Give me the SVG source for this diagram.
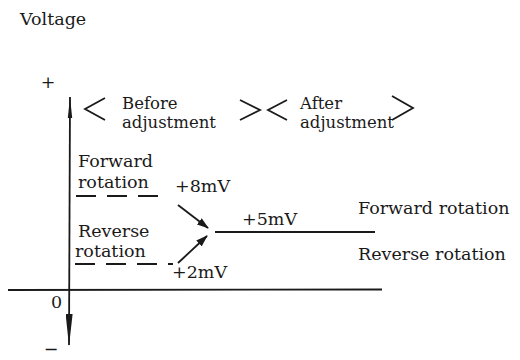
<svg xmlns="http://www.w3.org/2000/svg" width="520" height="360" viewBox="0 0 520 360">
<defs>
<style>
text{font-family:"DejaVu Serif","Liberation Serif",serif;font-size:17.5px;fill:#1a1a1a}
.hd{font-size:16.5px}
.ln{stroke:#1a1a1a;stroke-width:1.8;fill:none}
.dash{stroke:#1a1a1a;stroke-width:1.8;fill:none;stroke-dasharray:20 11}
</style>
<marker id="ah" viewBox="0 0 12 8" refX="11" refY="4" markerWidth="12" markerHeight="8" markerUnits="userSpaceOnUse" orient="auto"><path d="M0,0 L12,4 L0,8 Z" fill="#1a1a1a"/></marker>
<marker id="axh" viewBox="0 0 32 7" refX="31" refY="3.5" markerWidth="32" markerHeight="7" markerUnits="userSpaceOnUse" orient="auto"><path d="M0,0 L32,3.5 L0,7 Z" fill="#1a1a1a"/></marker>
</defs>
<rect width="520" height="360" fill="#fff"/>
<g id="axes">
<text x="20" y="25">Voltage</text>
<text x="48" y="88" text-anchor="middle">+</text>
<line class="ln" x1="70" y1="97" x2="69" y2="345" marker-end="url(#axh)"/>
<path d="M70,97 L72.2,118 L67.8,118 Z" fill="#1a1a1a"/>
<line class="ln" x1="8" y1="290" x2="382" y2="289.5"/>
<text x="51" y="308">0</text>
<text x="51" y="355" text-anchor="middle" font-size="16">−</text>
</g>
<g id="before">
<path class="ln" d="M105,98 L85,109 L105,120"/>
<text class="hd" x="122" y="109">Before</text>
<text class="hd" x="122" y="128">adjustment</text>
<path class="ln" d="M240,100 L260,110 L240,120"/>
</g>
<g id="after">
<path class="ln" d="M287,100 L268,110 L287,120"/>
<text class="hd" x="300" y="109">After</text>
<text class="hd" x="300" y="128">adjustment</text>
<path class="ln" d="M392,96 L413,108 L392,120"/>
</g>
<g id="forward-before">
<text x="78" y="167">Forward</text>
<text x="78" y="188">rotation</text>
<line class="dash" x1="76" y1="196" x2="167" y2="196"/>
<text x="175" y="192">+8mV</text>
</g>
<g id="reverse-before">
<text x="78" y="237">Reverse</text>
<text x="75" y="257">rotation</text>
<line class="dash" x1="75" y1="264" x2="173" y2="264"/>
<text x="172" y="278">+2mV</text>
</g>
<g id="after-level">
<text x="242" y="225">+5mV</text>
<line class="ln" x1="215" y1="232" x2="375" y2="232"/>
<text x="358" y="214">Forward rotation</text>
<text x="358" y="260">Reverse rotation</text>
</g>
<g id="connectors">
<line class="ln" x1="178" y1="205" x2="208" y2="228" marker-end="url(#ah)"/>
<line class="ln" x1="178" y1="263" x2="207" y2="236" marker-end="url(#ah)"/>
</g>
</svg>
